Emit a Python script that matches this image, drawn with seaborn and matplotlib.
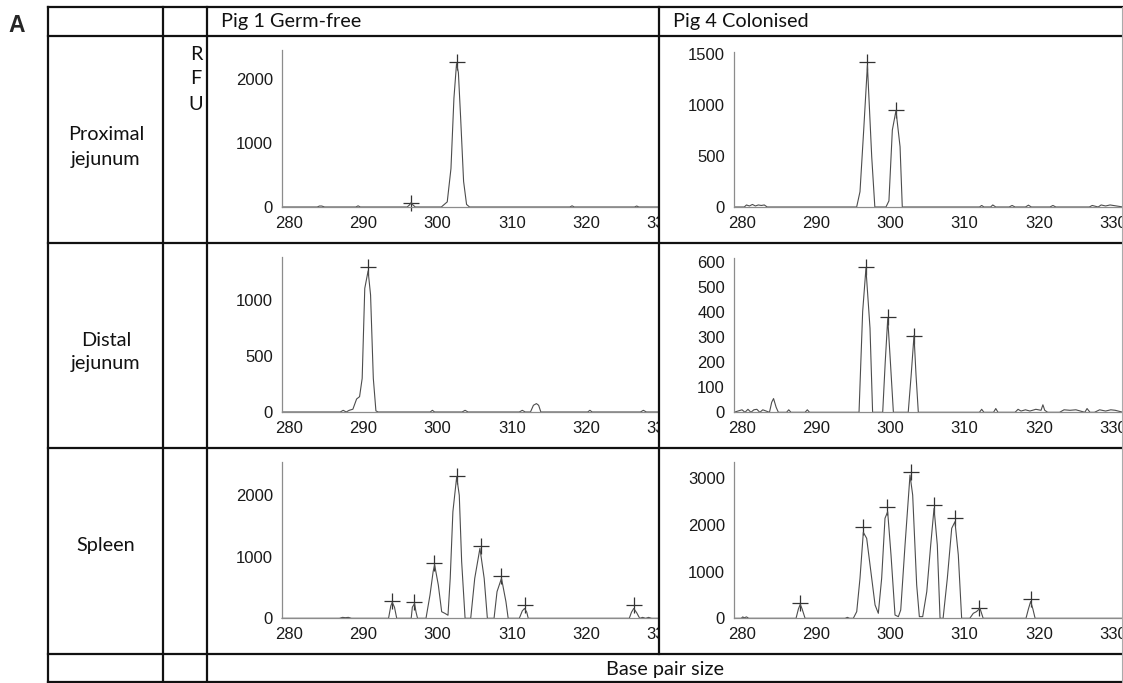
import matplotlib
matplotlib.use("Agg")
import matplotlib.pyplot as plt
from matplotlib.lines import Line2D
from matplotlib.transforms import Bbox, TransformedBbox
import seaborn as sns

# --- data (bp, RFU) ---
# Pig 1 germ-free, proximal jejunum
p1_prox_bp = [279.1, 283.8, 284.1, 284.4, 284.8, 289.0, 289.3, 289.6, 295.9, 296.2, 296.45, 296.7, 297.0,
              300.5, 301.3, 301.8, 302.2, 302.55, 302.8, 303.1, 303.5, 303.9, 304.3, 317.8, 318.1, 318.4,
              326.5, 326.8, 327.1, 332.0]
p1_prox_rfu = [0, 0, 15, 15, 0, 0, 18, 0, 0, 30, 70, 30, 0,
               0, 80, 600, 1700, 2240, 2100, 1400, 400, 40, 0, 0, 18, 0,
               0, 15, 0, 0]
p1_prox_pk_bp = [296.45, 302.6]
p1_prox_pk_rfu = [70, 2260]

# Pig 4 colonised, proximal jejunum
p4_prox_bp = [278.9, 280.3, 280.6, 281.0, 281.4, 281.8, 282.2, 282.6, 283.0, 283.4,
              295.45, 295.9, 296.4, 296.9, 297.48, 297.9, 299.4, 299.6, 299.8, 300.26, 300.75, 301.3, 301.6,
              312.0, 312.3, 312.6, 313.5, 313.8, 314.2, 316.0, 316.4, 316.8, 318.2, 318.6, 319.0,
              321.5, 321.9, 322.3, 326.8, 327.2, 328.0, 328.4, 329.0, 329.6, 331.35]
p4_prox_rfu = [0, 0, 20, 10, 25, 10, 20, 15, 20, 0,
               0, 150, 755, 1390, 493, 0, 0, 30, 60, 755, 945, 591, 0,
               0, 15, 0, 0, 20, 0, 0, 15, 0, 0, 18, 0,
               0, 15, 0, 0, 15, 0, 20, 10, 20, 0]
p4_prox_pk_bp = [296.9, 300.75]
p4_prox_pk_rfu = [1418, 951]

# Pig 1 germ-free, distal jejunum
p1_dist_bp = [279.1, 286.9, 287.3, 287.7, 288.1, 288.6, 289.1, 289.5, 289.85, 290.2, 290.65, 290.98, 291.35,
              291.7, 292.0, 299.0, 299.3, 299.6, 303.3, 303.7, 304.1, 311.0, 311.4, 311.8,
              312.5, 312.9, 313.3, 313.6, 313.9, 320.2, 320.5, 320.8, 327.3, 327.7, 328.1, 332.0]
p1_dist_rfu = [0, 0, 15, 0, 15, 25, 116, 137, 300, 1104, 1260, 1045, 300,
               10, 0, 0, 15, 0, 0, 15, 0, 0, 15, 0,
               0, 60, 75, 60, 0, 0, 15, 0, 0, 15, 0, 0]
p1_dist_pk_bp = [290.68]
p1_dist_pk_rfu = [1298]

# Pig 4 colonised, distal jejunum
p4_dist_bp = [278.9, 280.0, 280.4, 280.8, 281.2, 281.6, 282.0, 282.4, 282.8,
              283.7, 284.0, 284.25, 284.6, 284.9, 286.0, 286.3, 286.6, 288.5, 288.8, 289.1,
              295.77, 296.26, 296.7, 297.25, 297.6, 298.96, 299.3, 299.64, 300.0, 300.4,
              302.4, 302.8, 303.18, 303.45, 303.76, 312.0, 312.3, 312.6, 313.9, 314.2, 314.5,
              316.8, 317.2, 317.6, 318.2, 318.8, 319.6, 320.3, 320.55, 320.8, 321.2,
              322.8, 323.4, 324.2, 325.0, 326.2, 326.5, 326.9, 327.5, 328.2, 329.0, 329.7, 330.3, 331.35]
p4_dist_rfu = [0, 10, 0, 12, 0, 10, 12, 0, 10,
               0, 40, 55, 20, 0, 0, 10, 0, 0, 10, 0,
               0, 403, 575, 336, 0, 0, 200, 375, 200, 0,
               0, 150, 307, 150, 0, 0, 12, 0, 0, 15, 0,
               0, 12, 5, 10, 5, 12, 8, 30, 8, 0,
               0, 10, 8, 10, 0, 15, 0, 0, 10, 5, 10, 8, 0]
p4_dist_pk_bp = [296.7, 299.64, 303.18]
p4_dist_pk_rfu = [580, 380, 307]

# Pig 1 germ-free, spleen
p1_spl_bp = [279.06, 286.8, 287.2, 287.6, 288.0, 288.4, 293.4, 293.7, 293.9, 294.2, 294.5,
             296.45, 296.6, 296.9, 297.1, 297.3, 298.44, 298.98, 299.4, 299.6, 300.1, 300.55, 300.99,
             301.4, 301.7, 302.06, 302.57, 302.92, 303.24, 303.7, 304.46, 305.0, 305.7, 306.27, 306.7,
             307.6, 308.0, 308.6, 309.2, 309.5, 311.0, 311.4, 311.7, 312.0, 312.2,
             325.8, 326.1, 326.4, 326.8, 327.2, 327.6, 328.0, 328.4, 328.8, 331.95]
p1_spl_rfu = [0, 0, 15, 10, 15, 0, 0, 200, 260, 180, 0,
              0, 180, 240, 100, 0, 0, 380, 758, 870, 540, 107, 80,
              50, 650, 1733, 2300, 2000, 920, 0, 0, 650, 1138, 650, 0,
              0, 433, 650, 270, 0, 0, 120, 160, 100, 0,
              0, 100, 160, 90, 0, 15, 0, 15, 0, 0]
p1_spl_pk_bp = [293.9, 296.87, 299.56, 302.57, 305.8, 308.6, 311.7, 326.4]
p1_spl_pk_rfu = [287, 270, 905, 2320, 1176, 693, 216, 216]

# Pig 4 colonised, spleen
p4_spl_bp = [278.92, 279.9, 280.1, 280.3, 280.6, 280.9, 287.28, 287.6, 287.85, 288.1, 288.5,
             293.9, 294.2, 294.5, 295.0, 295.46, 295.9, 296.35, 296.8, 297.48, 297.93, 298.37, 298.82,
             299.27, 299.63, 300.08, 300.62, 301.07, 301.39, 301.97, 302.64, 303.0, 303.54, 303.9,
             304.35, 304.9, 305.43, 305.88, 306.32, 306.69, 307.1, 307.67, 308.26, 308.7, 309.15, 309.6,
             310.7, 311.17, 311.6, 312.07, 312.5, 318.27, 318.6, 318.9, 319.2, 319.5, 331.35]
p4_spl_rfu = [0, 0, 30, 10, 30, 0, 0, 200, 300, 200, 0,
              0, 20, 0, 0, 143, 857, 1843, 1714, 857, 286, 107, 857,
              2143, 2285, 1357, 70, 35, 178, 1571, 3070, 2642, 714, 35,
              35, 571, 1571, 2357, 1571, 0, 0, 857, 1928, 2071, 1357, 0,
              0, 107, 143, 214, 0, 0, 200, 360, 200, 0, 0]
p4_spl_pk_bp = [287.82, 296.35, 299.6, 302.73, 305.88, 308.7, 311.98, 318.9]
p4_spl_pk_rfu = [321, 1963, 2392, 3128, 2428, 2156, 214, 414]

x_ticks = [280, 290, 300, 310, 320, 330]
p1_prox_yticks = [0, 1000, 2000]
p4_prox_yticks = [0, 500, 1000, 1500]
p1_dist_yticks = [0, 500, 1000]
p4_dist_yticks = [0, 100, 200, 300, 400, 500, 600]
p1_spl_yticks = [0, 1000, 2000]
p4_spl_yticks = [0, 1000, 2000, 3000]

column_titles = ["Pig 1 Germ-free", "Pig 4 Colonised"]
row_titles = ["Proximal\njejunum", "Distal\njejunum", "Spleen"]

# --- figure / layout (pixels) ---
sns.set_theme(style="white")
plt.rcParams["font.family"] = ["Liberation Sans", "DejaVu Sans"]

W, H = 1123, 683
fig = plt.figure(figsize=(W / 100, H / 100), dpi=100)


def fx(px):
    return px / W


def fy(py):
    return 1 - py / H


# column geometry: axes left/right pixel, bp at left edge, px per bp
cols = [dict(left=282, right=675, x0=279.06, ppb=7.43),
        dict(left=734, right=1123, x0=278.92, ppb=7.42)]

panels = [
    (0, p1_prox_bp, p1_prox_rfu, p1_prox_pk_bp, p1_prox_pk_rfu, p1_prox_yticks, 207, 50, 2453),
    (1, p4_prox_bp, p4_prox_rfu, p4_prox_pk_bp, p4_prox_pk_rfu, p4_prox_yticks, 207, 52, 1520),
    (0, p1_dist_bp, p1_dist_rfu, p1_dist_pk_bp, p1_dist_pk_rfu, p1_dist_yticks, 412, 257, 1384),
    (1, p4_dist_bp, p4_dist_rfu, p4_dist_pk_bp, p4_dist_pk_rfu, p4_dist_yticks, 412.3, 258, 617),
    (0, p1_spl_bp, p1_spl_rfu, p1_spl_pk_bp, p1_spl_pk_rfu, p1_spl_yticks, 618.3, 461.7, 2546),
    (1, p4_spl_bp, p4_spl_rfu, p4_spl_pk_bp, p4_spl_pk_rfu, p4_spl_yticks, 618.3, 461.7, 3356),
]

# Pig 1 traces run past the column border and get cut there
cell_clip = TransformedBbox(Bbox.from_extents(fx(208), fy(653), fx(658), fy(37)), fig.transFigure)

for col, bp, rfu, pk_bp, pk_rfu, yticks, bottom, top, ymax in panels:
    c = cols[col]
    ax = fig.add_axes([fx(c["left"]), fy(bottom), (c["right"] - c["left"]) / W, (bottom - top) / H])
    ax.patch.set_alpha(0)
    sns.lineplot(x=bp, y=rfu, sort=False, estimator=None, color="#4d4d4d", lw=0.8, ax=ax)
    sns.scatterplot(x=pk_bp, y=pk_rfu, marker="+", s=120, color="#333333", linewidth=0.9, ax=ax)
    ax.set_xlim(c["x0"], c["x0"] + (c["right"] - c["left"]) / c["ppb"])
    ax.set_ylim(0, ymax)
    ax.set_xticks(x_ticks)
    ax.set_yticks(yticks)
    ax.set_xlabel("")
    ax.set_ylabel("")
    sns.despine(ax=ax)
    for side in ["left", "bottom"]:
        ax.spines[side].set_color("#8c8c8c")
        ax.spines[side].set_linewidth(0.9)
    ax.tick_params(direction="inout", length=9, width=0.8, color="#8c8c8c",
                   labelsize=12, labelcolor="#1a1a1a", pad=2)
    if col == 0:
        for art in ax.get_children():
            art.set_clip_box(cell_clip)
            art.set_clip_on(True)
        for t in ax.xaxis.get_major_ticks():
            for a in (t.tick1line, t.tick2line, t.label1, t.label2):
                a.set_clip_box(cell_clip)
                a.set_clip_on(True)

# --- table grid ---
def hline(y, x0, x1, **kw):
    fig.add_artist(Line2D([fx(x0), fx(x1)], [fy(y), fy(y)], transform=fig.transFigure, **kw))


def vline(x, y0, y1, **kw):
    fig.add_artist(Line2D([fx(x), fx(x)], [fy(y0), fy(y1)], transform=fig.transFigure, **kw))


grid = dict(color="#111111", lw=1.6, solid_capstyle="projecting")
for y in [7, 36, 243, 448, 654, 682]:
    hline(y, 48, 1122, **grid)
for x in [48, 163, 207]:
    vline(x, 7, 683, **grid)
vline(659, 7, 654, **grid)
vline(1122, 7, 683, color="#aaaaaa", lw=0.8)

# --- table text ---
tfont = dict(fontfamily=["Lato", "DejaVu Sans"], fontsize=14.3, color="#111111")
fig.text(fx(17), fy(25), "A", ha="center", va="center", fontsize=16.5, fontweight="bold",
         fontfamily=["Liberation Sans", "DejaVu Sans"])
fig.text(fx(221), fy(22), column_titles[0], ha="left", va="center", **tfont)
fig.text(fx(673), fy(22), column_titles[1], ha="left", va="center", **tfont)
for letter, y in zip("RFU", [54, 79, 104]):
    fig.text(fx(196), fy(y), letter, ha="center", va="center", **tfont)
for label, y in zip(row_titles, [147, 352, 545]):
    fig.text(fx(106), fy(y), label, ha="center", va="center", linespacing=1.5, **tfont)
fig.text(fx(665), fy(669), "Base pair size", ha="center", va="center", **tfont)

fig.savefig("out.png", dpi=100)
